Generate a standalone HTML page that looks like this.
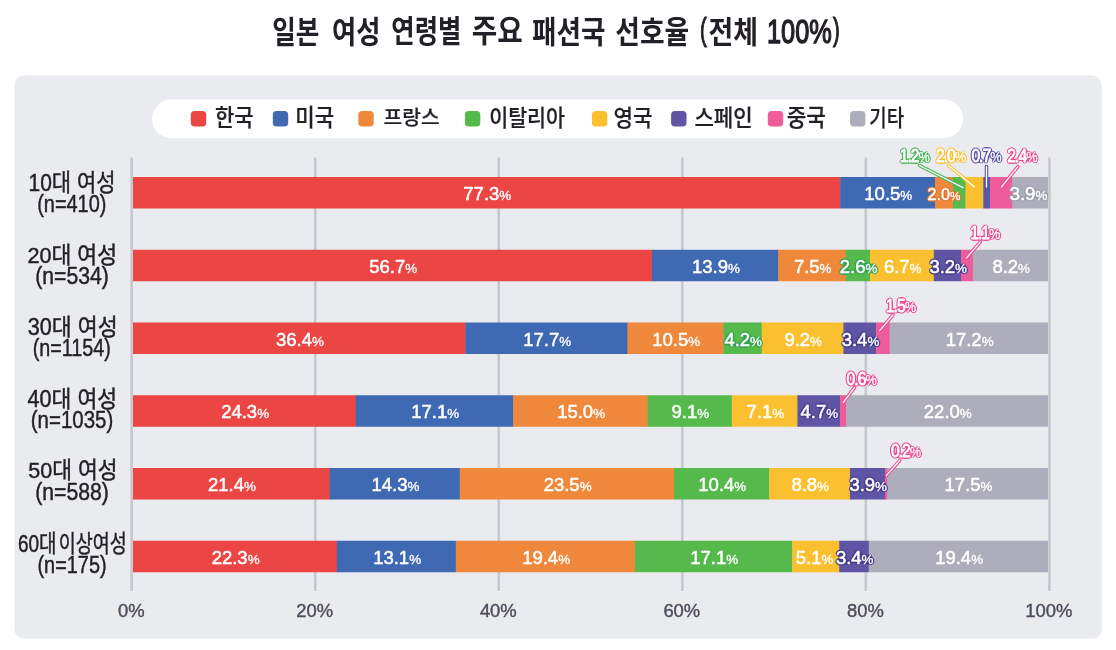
<!DOCTYPE html>
<html lang="ko"><head><meta charset="utf-8"><title>일본 여성 연령별 주요 패션국 선호율</title>
<style>
html,body{margin:0;padding:0;background:#fff;}
body{width:1116px;height:650px;overflow:hidden;font-family:"Liberation Sans","Noto Sans CJK KR",sans-serif;}
svg{display:block;}
text{font-family:"Liberation Sans","Noto Sans CJK KR",sans-serif;}
.n{font-family:"Liberation Sans",sans-serif;font-size:18.5px;fill:#fff;text-anchor:middle;stroke-linejoin:round;}
.n{stroke:#fff;stroke-width:0.5px;}
.n tspan{font-size:13.4px;}
.n tspan{stroke-width:0.35px;}
.o,.p{font-family:"Liberation Sans",sans-serif;font-size:17.8px;fill:#fff;text-anchor:middle;stroke-linejoin:round;letter-spacing:-1.1px;}
.o{stroke-width:3.2px;}
.p{stroke:#fff;stroke-width:0.8px;}
.o tspan,.p tspan{font-size:14.5px;}
.p tspan{stroke-width:0.3px;}
.ax{font-family:"Liberation Sans",sans-serif;font-size:18.6px;fill:#4b4e5b;stroke:#4b4e5b;stroke-width:0.4px;text-anchor:middle;}
</style></head><body>
<svg width="1116" height="650" viewBox="0 0 1116 650">

<defs>
<filter id="h0" x="-15%" y="-30%" width="130%" height="160%" color-interpolation-filters="sRGB"><feGaussianBlur in="SourceAlpha" stdDeviation="1.45"/><feColorMatrix type="matrix" values="0 0 0 0 0.922 0 0 0 0 0.271 0 0 0 0 0.267 0 0 0 7 -0.55"/><feMerge><feMergeNode/><feMergeNode in="SourceGraphic"/></feMerge></filter>
<filter id="g0" x="-15%" y="-30%" width="130%" height="160%" color-interpolation-filters="sRGB"><feGaussianBlur in="SourceAlpha" stdDeviation="1.05"/><feColorMatrix type="matrix" values="0 0 0 0 0.922 0 0 0 0 0.271 0 0 0 0 0.267 0 0 0 7 -0.58"/><feMerge><feMergeNode/><feMergeNode in="SourceGraphic"/></feMerge></filter>
<filter id="h1" x="-15%" y="-30%" width="130%" height="160%" color-interpolation-filters="sRGB"><feGaussianBlur in="SourceAlpha" stdDeviation="1.45"/><feColorMatrix type="matrix" values="0 0 0 0 0.247 0 0 0 0 0.416 0 0 0 0 0.702 0 0 0 7 -0.55"/><feMerge><feMergeNode/><feMergeNode in="SourceGraphic"/></feMerge></filter>
<filter id="g1" x="-15%" y="-30%" width="130%" height="160%" color-interpolation-filters="sRGB"><feGaussianBlur in="SourceAlpha" stdDeviation="1.05"/><feColorMatrix type="matrix" values="0 0 0 0 0.247 0 0 0 0 0.416 0 0 0 0 0.702 0 0 0 7 -0.58"/><feMerge><feMergeNode/><feMergeNode in="SourceGraphic"/></feMerge></filter>
<filter id="h2" x="-15%" y="-30%" width="130%" height="160%" color-interpolation-filters="sRGB"><feGaussianBlur in="SourceAlpha" stdDeviation="1.45"/><feColorMatrix type="matrix" values="0 0 0 0 0.890 0 0 0 0 0.455 0 0 0 0 0.173 0 0 0 7 -0.55"/><feMerge><feMergeNode/><feMergeNode in="SourceGraphic"/></feMerge></filter>
<filter id="g2" x="-15%" y="-30%" width="130%" height="160%" color-interpolation-filters="sRGB"><feGaussianBlur in="SourceAlpha" stdDeviation="1.05"/><feColorMatrix type="matrix" values="0 0 0 0 0.941 0 0 0 0 0.533 0 0 0 0 0.231 0 0 0 7 -0.58"/><feMerge><feMergeNode/><feMergeNode in="SourceGraphic"/></feMerge></filter>
<filter id="h3" x="-15%" y="-30%" width="130%" height="160%" color-interpolation-filters="sRGB"><feGaussianBlur in="SourceAlpha" stdDeviation="1.45"/><feColorMatrix type="matrix" values="0 0 0 0 0.212 0 0 0 0 0.639 0 0 0 0 0.306 0 0 0 7 -0.55"/><feMerge><feMergeNode/><feMergeNode in="SourceGraphic"/></feMerge></filter>
<filter id="g3" x="-15%" y="-30%" width="130%" height="160%" color-interpolation-filters="sRGB"><feGaussianBlur in="SourceAlpha" stdDeviation="1.05"/><feColorMatrix type="matrix" values="0 0 0 0 0.278 0 0 0 0 0.710 0 0 0 0 0.337 0 0 0 7 -0.58"/><feMerge><feMergeNode/><feMergeNode in="SourceGraphic"/></feMerge></filter>
<filter id="h4" x="-15%" y="-30%" width="130%" height="160%" color-interpolation-filters="sRGB"><feGaussianBlur in="SourceAlpha" stdDeviation="1.45"/><feColorMatrix type="matrix" values="0 0 0 0 0.984 0 0 0 0 0.753 0 0 0 0 0.184 0 0 0 7 -0.55"/><feMerge><feMergeNode/><feMergeNode in="SourceGraphic"/></feMerge></filter>
<filter id="g4" x="-15%" y="-30%" width="130%" height="160%" color-interpolation-filters="sRGB"><feGaussianBlur in="SourceAlpha" stdDeviation="1.05"/><feColorMatrix type="matrix" values="0 0 0 0 0.984 0 0 0 0 0.753 0 0 0 0 0.184 0 0 0 7 -0.58"/><feMerge><feMergeNode/><feMergeNode in="SourceGraphic"/></feMerge></filter>
<filter id="h5" x="-15%" y="-30%" width="130%" height="160%" color-interpolation-filters="sRGB"><feGaussianBlur in="SourceAlpha" stdDeviation="1.45"/><feColorMatrix type="matrix" values="0 0 0 0 0.271 0 0 0 0 0.243 0 0 0 0 0.549 0 0 0 7 -0.55"/><feMerge><feMergeNode/><feMergeNode in="SourceGraphic"/></feMerge></filter>
<filter id="g5" x="-15%" y="-30%" width="130%" height="160%" color-interpolation-filters="sRGB"><feGaussianBlur in="SourceAlpha" stdDeviation="1.05"/><feColorMatrix type="matrix" values="0 0 0 0 0.373 0 0 0 0 0.333 0 0 0 0 0.647 0 0 0 7 -0.58"/><feMerge><feMergeNode/><feMergeNode in="SourceGraphic"/></feMerge></filter>
<filter id="h6" x="-15%" y="-30%" width="130%" height="160%" color-interpolation-filters="sRGB"><feGaussianBlur in="SourceAlpha" stdDeviation="1.45"/><feColorMatrix type="matrix" values="0 0 0 0 0.933 0 0 0 0 0.361 0 0 0 0 0.612 0 0 0 7 -0.55"/><feMerge><feMergeNode/><feMergeNode in="SourceGraphic"/></feMerge></filter>
<filter id="g6" x="-15%" y="-30%" width="130%" height="160%" color-interpolation-filters="sRGB"><feGaussianBlur in="SourceAlpha" stdDeviation="1.05"/><feColorMatrix type="matrix" values="0 0 0 0 0.925 0 0 0 0 0.294 0 0 0 0 0.573 0 0 0 7 -0.58"/><feMerge><feMergeNode/><feMergeNode in="SourceGraphic"/></feMerge></filter>
<filter id="h7" x="-15%" y="-30%" width="130%" height="160%" color-interpolation-filters="sRGB"><feGaussianBlur in="SourceAlpha" stdDeviation="1.45"/><feColorMatrix type="matrix" values="0 0 0 0 0.616 0 0 0 0 0.624 0 0 0 0 0.682 0 0 0 7 -0.55"/><feMerge><feMergeNode/><feMergeNode in="SourceGraphic"/></feMerge></filter>
<filter id="g7" x="-15%" y="-30%" width="130%" height="160%" color-interpolation-filters="sRGB"><feGaussianBlur in="SourceAlpha" stdDeviation="1.05"/><feColorMatrix type="matrix" values="0 0 0 0 0.675 0 0 0 0 0.682 0 0 0 0 0.733 0 0 0 7 -0.58"/><feMerge><feMergeNode/><feMergeNode in="SourceGraphic"/></feMerge></filter>
</defs>
<rect x="14.5" y="75.4" width="1087.3" height="563" rx="9.5" ry="9.5" fill="#eaebef"/>
<rect x="152" y="99.6" width="811" height="38.6" rx="19.3" fill="#fff"/>
<rect x="190.8" y="111" width="15.4" height="15.6" rx="3.8" fill="#eb4544"/>
<rect x="272.8" y="111" width="15.4" height="15.6" rx="3.8" fill="#3f6ab3"/>
<rect x="358.3" y="111" width="15.4" height="15.6" rx="3.8" fill="#f0883b"/>
<rect x="464.9" y="111" width="15.4" height="15.6" rx="3.8" fill="#56b94c"/>
<rect x="591.9" y="111" width="15.4" height="15.6" rx="3.8" fill="#fbc02f"/>
<rect x="671.1" y="111" width="15.4" height="15.6" rx="3.8" fill="#5f55a5"/>
<rect x="767.8" y="111" width="15.4" height="15.6" rx="3.8" fill="#ee5c9c"/>
<rect x="850.0" y="111" width="15.4" height="15.6" rx="3.8" fill="#acaebb"/>
<rect x="130.40" y="157.6" width="2.6" height="433.4" fill="#c6c7cf"/>
<text class="ax" transform="translate(131.2 616.8) scale(0.99 1)">0%</text>
<rect x="313.94" y="157.6" width="2.6" height="433.4" fill="#c6c7cf"/>
<text class="ax" transform="translate(314.7 616.8) scale(0.99 1)">20%</text>
<rect x="497.48" y="157.6" width="2.6" height="433.4" fill="#c6c7cf"/>
<text class="ax" transform="translate(498.3 616.8) scale(0.99 1)">40%</text>
<rect x="681.02" y="157.6" width="2.6" height="433.4" fill="#c6c7cf"/>
<text class="ax" transform="translate(681.8 616.8) scale(0.99 1)">60%</text>
<rect x="864.56" y="157.6" width="2.6" height="433.4" fill="#c6c7cf"/>
<text class="ax" transform="translate(865.4 616.8) scale(0.99 1)">80%</text>
<rect x="1048.10" y="157.6" width="2.6" height="433.4" fill="#c6c7cf"/>
<text class="ax" transform="translate(1048.9 616.8) scale(0.99 1)">100%</text>
<rect x="133.00" y="177.00" width="707.60" height="31.5" fill="#eb4544"/>
<rect x="840.20" y="177.00" width="95.20" height="31.5" fill="#3f6ab3"/>
<rect x="935.00" y="177.00" width="18.30" height="31.5" fill="#f0883b"/>
<rect x="952.90" y="177.00" width="13.00" height="31.5" fill="#56b94c"/>
<rect x="965.50" y="177.00" width="18.20" height="31.5" fill="#fbc02f"/>
<rect x="983.30" y="177.00" width="7.10" height="31.5" fill="#5f55a5"/>
<rect x="990.00" y="177.00" width="22.70" height="31.5" fill="#ee5c9c"/>
<rect x="1012.30" y="177.00" width="35.70" height="31.5" fill="#acaebb"/>
<rect x="133.00" y="249.75" width="519.40" height="31.5" fill="#eb4544"/>
<rect x="652.00" y="249.75" width="126.70" height="31.5" fill="#3f6ab3"/>
<rect x="778.30" y="249.75" width="67.70" height="31.5" fill="#f0883b"/>
<rect x="845.60" y="249.75" width="24.90" height="31.5" fill="#56b94c"/>
<rect x="870.10" y="249.75" width="64.10" height="31.5" fill="#fbc02f"/>
<rect x="933.80" y="249.75" width="27.70" height="31.5" fill="#5f55a5"/>
<rect x="961.10" y="249.75" width="12.20" height="31.5" fill="#ee5c9c"/>
<rect x="972.90" y="249.75" width="75.10" height="31.5" fill="#acaebb"/>
<rect x="133.00" y="322.50" width="332.80" height="31.5" fill="#eb4544"/>
<rect x="465.40" y="322.50" width="162.50" height="31.5" fill="#3f6ab3"/>
<rect x="627.50" y="322.50" width="96.30" height="31.5" fill="#f0883b"/>
<rect x="723.40" y="322.50" width="38.70" height="31.5" fill="#56b94c"/>
<rect x="761.70" y="322.50" width="82.10" height="31.5" fill="#fbc02f"/>
<rect x="843.40" y="322.50" width="33.10" height="31.5" fill="#5f55a5"/>
<rect x="876.10" y="322.50" width="14.00" height="31.5" fill="#ee5c9c"/>
<rect x="889.70" y="322.50" width="158.30" height="31.5" fill="#acaebb"/>
<rect x="133.00" y="395.25" width="223.20" height="31.5" fill="#eb4544"/>
<rect x="355.80" y="395.25" width="157.80" height="31.5" fill="#3f6ab3"/>
<rect x="513.20" y="395.25" width="134.70" height="31.5" fill="#f0883b"/>
<rect x="647.50" y="395.25" width="84.70" height="31.5" fill="#56b94c"/>
<rect x="731.80" y="395.25" width="66.00" height="31.5" fill="#fbc02f"/>
<rect x="797.40" y="395.25" width="43.00" height="31.5" fill="#5f55a5"/>
<rect x="840.00" y="395.25" width="6.60" height="31.5" fill="#ee5c9c"/>
<rect x="846.20" y="395.25" width="201.80" height="31.5" fill="#acaebb"/>
<rect x="133.00" y="468.00" width="197.10" height="31.5" fill="#eb4544"/>
<rect x="329.70" y="468.00" width="130.50" height="31.5" fill="#3f6ab3"/>
<rect x="459.80" y="468.00" width="214.60" height="31.5" fill="#f0883b"/>
<rect x="674.00" y="468.00" width="95.60" height="31.5" fill="#56b94c"/>
<rect x="769.20" y="468.00" width="81.10" height="31.5" fill="#fbc02f"/>
<rect x="849.90" y="468.00" width="35.70" height="31.5" fill="#5f55a5"/>
<rect x="885.20" y="468.00" width="2.50" height="31.5" fill="#ee5c9c"/>
<rect x="887.30" y="468.00" width="160.70" height="31.5" fill="#acaebb"/>
<rect x="133.00" y="540.75" width="204.30" height="31.5" fill="#eb4544"/>
<rect x="336.90" y="540.75" width="119.30" height="31.5" fill="#3f6ab3"/>
<rect x="455.80" y="540.75" width="179.50" height="31.5" fill="#f0883b"/>
<rect x="634.90" y="540.75" width="157.70" height="31.5" fill="#56b94c"/>
<rect x="792.20" y="540.75" width="47.40" height="31.5" fill="#fbc02f"/>
<rect x="839.20" y="540.75" width="30.00" height="31.5" fill="#5f55a5"/>
<rect x="868.80" y="540.75" width="179.20" height="31.5" fill="#acaebb"/>
<text transform="translate(272.19 42.80) scale(0.8230 1)" font-size="31.20" font-weight="700" fill="#231f26">일본</text>
<text transform="translate(332.05 42.52) scale(0.8539 1)" font-size="30.86" font-weight="700" fill="#231f26">여성</text>
<text transform="translate(391.33 42.38) scale(0.8275 1)" font-size="30.70" font-weight="700" fill="#231f26">연령별</text>
<text transform="translate(471.79 42.47) scale(0.8809 1)" font-size="31.48" font-weight="700" fill="#231f26">주요</text>
<text transform="translate(532.07 42.52) scale(0.8641 1)" font-size="30.86" font-weight="700" fill="#231f26">패션국</text>
<text transform="translate(615.36 42.66) scale(0.8631 1)" font-size="31.03" font-weight="700" fill="#231f26">선호율</text>
<text transform="translate(699.97 39.71) scale(0.6323 1)" font-size="31.87" font-weight="400" fill="#231f26" stroke="#231f26" stroke-width="1.2">(</text>
<text transform="translate(708.42 42.52) scale(0.8729 1)" font-size="30.86" font-weight="700" fill="#231f26">전체</text>
<text transform="translate(766.96 42.76) scale(0.7437 1)" font-size="34.08" font-weight="400" fill="#231f26" stroke="#231f26" stroke-width="1.4">100%</text>
<text transform="translate(833.08 39.71) scale(0.6323 1)" font-size="31.87" font-weight="400" fill="#231f26" stroke="#231f26" stroke-width="1.2">)</text>
<text transform="translate(214.94 125.99) scale(0.8964 1)" font-size="23.48" font-weight="500" fill="#231f26" stroke="#231f26" stroke-width="0.22">한국</text>
<text transform="translate(295.28 126.01) scale(0.9051 1)" font-size="23.35" font-weight="500" fill="#231f26" stroke="#231f26" stroke-width="0.22">미국</text>
<text transform="translate(383.57 125.07) scale(1.0074 1)" font-size="20.20" font-weight="500" fill="#231f26" stroke="#231f26" stroke-width="0.22">프랑스</text>
<text transform="translate(489.14 126.06) scale(0.9098 1)" font-size="22.70" font-weight="500" fill="#231f26" stroke="#231f26" stroke-width="0.22">이탈리아</text>
<text transform="translate(613.51 126.21) scale(0.9126 1)" font-size="23.26" font-weight="500" fill="#231f26" stroke="#231f26" stroke-width="0.22">영국</text>
<text transform="translate(694.44 126.06) scale(0.9304 1)" font-size="22.70" font-weight="500" fill="#231f26" stroke="#231f26" stroke-width="0.22">스페인</text>
<text transform="translate(786.63 126.34) scale(0.8853 1)" font-size="24.09" font-weight="500" fill="#231f26" stroke="#231f26" stroke-width="0.22">중국</text>
<text transform="translate(869.35 126.42) scale(0.8186 1)" font-size="23.13" font-weight="500" fill="#231f26" stroke="#231f26" stroke-width="0.22">기타</text>
<text transform="translate(28.51 190.98) scale(0.8856 1)" font-size="23.68" font-weight="400" fill="#231f26" stroke="#231f26" stroke-width="0.45">10대 여성</text>
<text transform="translate(37.18 212.39) scale(0.8224 1)" font-size="24.22" font-weight="400" fill="#231f26" stroke="#231f26" stroke-width="0.45">(n=410)</text>
<text transform="translate(27.50 262.55) scale(0.9471 1)" font-size="22.80" font-weight="400" fill="#231f26" stroke="#231f26" stroke-width="0.45">20대 여성</text>
<text transform="translate(35.21 284.39) scale(0.8754 1)" font-size="24.22" font-weight="400" fill="#231f26" stroke="#231f26" stroke-width="0.45">(n=534)</text>
<text transform="translate(27.71 334.73) scale(0.9411 1)" font-size="23.02" font-weight="400" fill="#231f26" stroke="#231f26" stroke-width="0.45">30대 여성</text>
<text transform="translate(32.80 356.39) scale(0.8153 1)" font-size="24.22" font-weight="400" fill="#231f26" stroke="#231f26" stroke-width="0.45">(n=1154)</text>
<text transform="translate(27.54 407.32) scale(0.9331 1)" font-size="23.13" font-weight="400" fill="#231f26" stroke="#231f26" stroke-width="0.45">40대 여성</text>
<text transform="translate(30.75 428.47) scale(0.8413 1)" font-size="24.33" font-weight="400" fill="#231f26" stroke="#231f26" stroke-width="0.45">(n=1035)</text>
<text transform="translate(28.22 478.35) scale(0.9447 1)" font-size="22.80" font-weight="400" fill="#231f26" stroke="#231f26" stroke-width="0.45">50대 여성</text>
<text transform="translate(35.21 500.03) scale(0.8832 1)" font-size="24.01" font-weight="400" fill="#231f26" stroke="#231f26" stroke-width="0.45">(n=588)</text>
<text transform="translate(17.93 551.80) scale(0.8103 1)" font-size="23.46" font-weight="400" fill="#231f26" stroke="#231f26" stroke-width="0.45">60대</text>
<text transform="translate(58.71 551.80) scale(0.7891 1)" font-size="23.46" font-weight="400" fill="#231f26" stroke="#231f26" stroke-width="0.45">이상여성</text>
<text transform="translate(37.49 573.34) scale(0.8140 1)" font-size="24.44" font-weight="400" fill="#231f26" stroke="#231f26" stroke-width="0.45">(n=175)</text>
<text class="n" x="487.3" y="200.1">77.3<tspan>%</tspan></text>
<text class="n" x="888.3" y="200.1">10.5<tspan>%</tspan></text>
<text class="n" filter="url(#h2)" transform="translate(943.9 199.8) scale(0.87)">2.0<tspan>%</tspan></text>
<text class="n" filter="url(#h7)" x="1028.5" y="200.1">3.9<tspan>%</tspan></text>
<text class="n" x="393.2" y="272.9">56.7<tspan>%</tspan></text>
<text class="n" x="715.9" y="272.9">13.9<tspan>%</tspan></text>
<text class="n" x="812.7" y="272.9">7.5<tspan>%</tspan></text>
<text class="n" filter="url(#h3)" x="858.6" y="272.9">2.6<tspan>%</tspan></text>
<text class="n" x="902.7" y="272.9">6.7<tspan>%</tspan></text>
<text class="n" filter="url(#h5)" x="948.2" y="272.9">3.2<tspan>%</tspan></text>
<text class="n" x="1011.2" y="272.9">8.2<tspan>%</tspan></text>
<text class="n" x="299.9" y="345.6">36.4<tspan>%</tspan></text>
<text class="n" x="547.2" y="345.6">17.7<tspan>%</tspan></text>
<text class="n" x="676.2" y="345.6">10.5<tspan>%</tspan></text>
<text class="n" filter="url(#h3)" x="743.2" y="345.6">4.2<tspan>%</tspan></text>
<text class="n" x="803.2" y="345.6">9.2<tspan>%</tspan></text>
<text class="n" filter="url(#h5)" x="860.5" y="345.6">3.4<tspan>%</tspan></text>
<text class="n" x="969.6" y="345.6">17.2<tspan>%</tspan></text>
<text class="n" x="245.1" y="418.4">24.3<tspan>%</tspan></text>
<text class="n" x="435.2" y="418.4">17.1<tspan>%</tspan></text>
<text class="n" x="581.1" y="418.4">15.0<tspan>%</tspan></text>
<text class="n" x="690.4" y="418.4">9.1<tspan>%</tspan></text>
<text class="n" x="765.3" y="418.4">7.1<tspan>%</tspan></text>
<text class="n" filter="url(#h5)" x="819.4" y="418.4">4.7<tspan>%</tspan></text>
<text class="n" x="947.8" y="418.4">22.0<tspan>%</tspan></text>
<text class="n" x="232.0" y="491.1">21.4<tspan>%</tspan></text>
<text class="n" x="395.4" y="491.1">14.3<tspan>%</tspan></text>
<text class="n" x="567.6" y="491.1">23.5<tspan>%</tspan></text>
<text class="n" x="722.3" y="491.1">10.4<tspan>%</tspan></text>
<text class="n" x="810.2" y="491.1">8.8<tspan>%</tspan></text>
<text class="n" filter="url(#h5)" x="868.2" y="491.1">3.9<tspan>%</tspan></text>
<text class="n" x="968.4" y="491.1">17.5<tspan>%</tspan></text>
<text class="n" x="235.6" y="563.9">22.3<tspan>%</tspan></text>
<text class="n" x="397.1" y="563.9">13.1<tspan>%</tspan></text>
<text class="n" x="546.1" y="563.9">19.4<tspan>%</tspan></text>
<text class="n" x="714.2" y="563.9">17.1<tspan>%</tspan></text>
<text class="n" x="814.6" y="563.9">5.1<tspan>%</tspan></text>
<text class="n" filter="url(#h5)" x="854.7" y="563.9">3.4<tspan>%</tspan></text>
<text class="n" x="959.1" y="563.9">19.4<tspan>%</tspan></text>
<line x1="919.5" y1="165.5" x2="963" y2="187.6" stroke="#47b556" stroke-width="3.5" stroke-linecap="round"/>
<line x1="919.5" y1="165.5" x2="963" y2="187.6" stroke="#fff" stroke-width="1.3" stroke-linecap="round"/>
<line x1="948.5" y1="165.5" x2="974.4" y2="187" stroke="#fbc02f" stroke-width="3.5" stroke-linecap="round"/>
<line x1="948.5" y1="165.5" x2="974.4" y2="187" stroke="#fff" stroke-width="1.3" stroke-linecap="round"/>
<line x1="986.5" y1="166.6" x2="986.5" y2="187" stroke="#5f55a5" stroke-width="3.5" stroke-linecap="round"/>
<line x1="986.5" y1="166.6" x2="986.5" y2="187" stroke="#fff" stroke-width="1.3" stroke-linecap="round"/>
<line x1="1017.9" y1="166.6" x2="1001.3" y2="187.1" stroke="#ec4b92" stroke-width="3.5" stroke-linecap="round"/>
<line x1="1017.9" y1="166.6" x2="1001.3" y2="187.1" stroke="#fff" stroke-width="1.3" stroke-linecap="round"/>
<line x1="980.4" y1="241.9" x2="966.5" y2="258" stroke="#ec4b92" stroke-width="3.5" stroke-linecap="round"/>
<line x1="980.4" y1="241.9" x2="966.5" y2="258" stroke="#fff" stroke-width="1.3" stroke-linecap="round"/>
<line x1="893" y1="315" x2="879.6" y2="330.6" stroke="#ec4b92" stroke-width="3.5" stroke-linecap="round"/>
<line x1="893" y1="315" x2="879.6" y2="330.6" stroke="#fff" stroke-width="1.3" stroke-linecap="round"/>
<line x1="854.6" y1="387.4" x2="843.3" y2="402.5" stroke="#ec4b92" stroke-width="3.5" stroke-linecap="round"/>
<line x1="854.6" y1="387.4" x2="843.3" y2="402.5" stroke="#fff" stroke-width="1.3" stroke-linecap="round"/>
<line x1="899.8" y1="460.3" x2="886.3" y2="475.6" stroke="#ec4b92" stroke-width="3.5" stroke-linecap="round"/>
<line x1="899.8" y1="460.3" x2="886.3" y2="475.6" stroke="#fff" stroke-width="1.3" stroke-linecap="round"/>
<text class="p" filter="url(#g3)" transform="translate(914.3 161.9) scale(0.88 1)">1.2<tspan>%</tspan></text>
<text class="p" filter="url(#g4)" transform="translate(950.6 161.9) scale(0.88 1)">2.0<tspan>%</tspan></text>
<text class="p" filter="url(#g5)" transform="translate(986.0 161.9) scale(0.88 1)">0.7<tspan>%</tspan></text>
<text class="p" filter="url(#g6)" transform="translate(1021.9 161.9) scale(0.88 1)">2.4<tspan>%</tspan></text>
<text class="p" filter="url(#g6)" transform="translate(984.8 239.0) scale(0.88 1)">1.1<tspan>%</tspan></text>
<text class="p" filter="url(#g6)" transform="translate(900.4 311.6) scale(0.88 1)">1.5<tspan>%</tspan></text>
<text class="p" filter="url(#g6)" transform="translate(861.2 384.5) scale(0.88 1)">0.6<tspan>%</tspan></text>
<text class="p" filter="url(#g6)" transform="translate(905.5 457.2) scale(0.88 1)">0.2<tspan>%</tspan></text>
</svg></body></html>
